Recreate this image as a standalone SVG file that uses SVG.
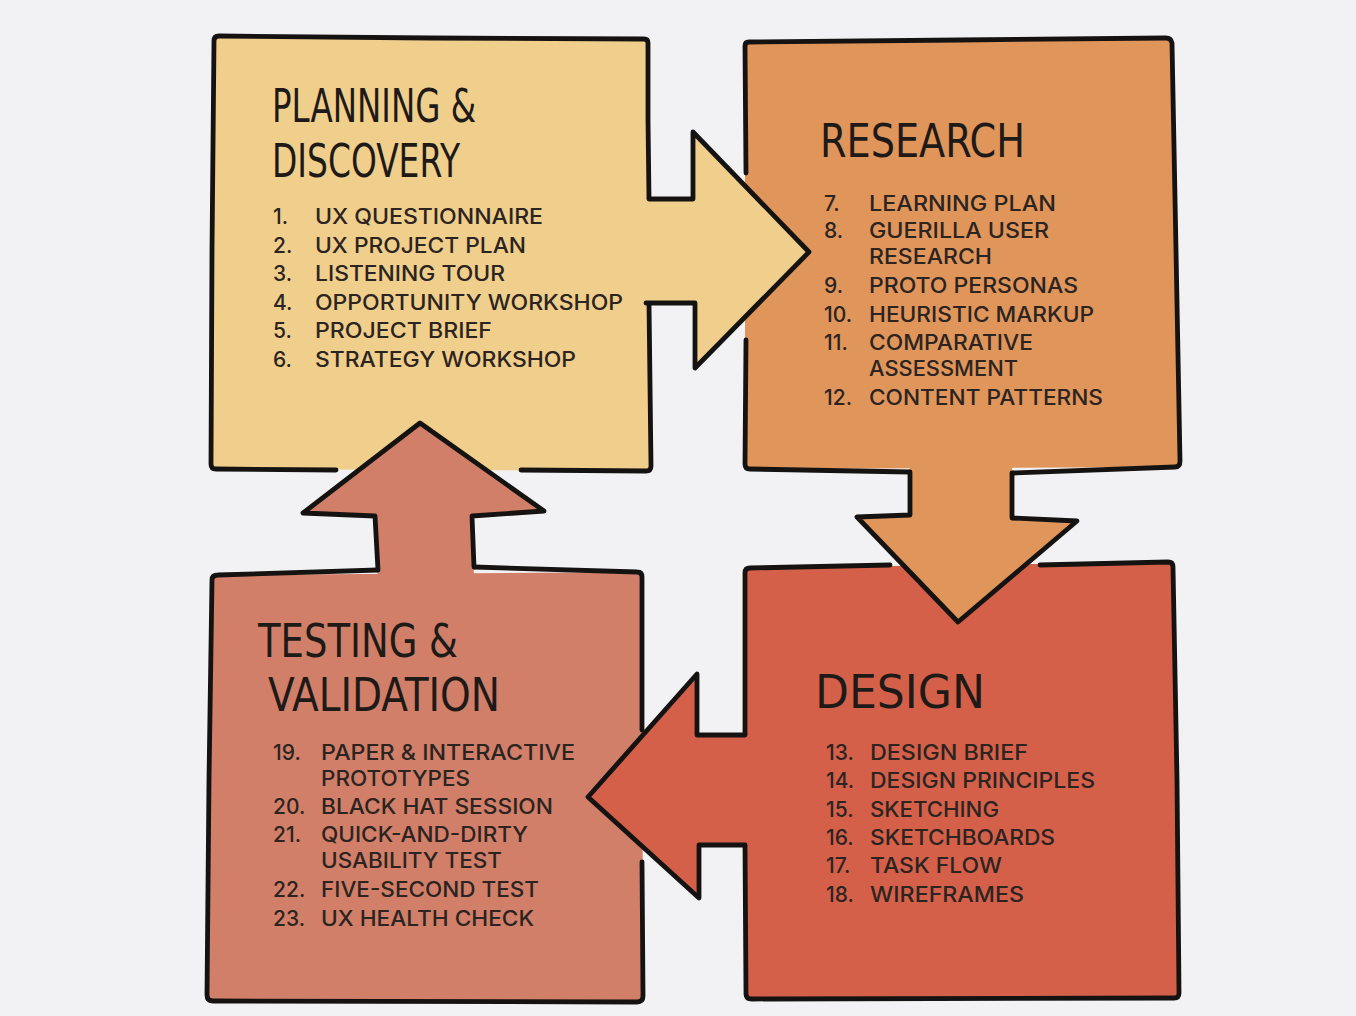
<svg xmlns="http://www.w3.org/2000/svg" width="1356" height="1016" viewBox="0 0 1356 1016">
<style>
.bg{fill:#F2F1F3}
.fy{fill:#F0CE8C}
.fo{fill:#E0955B}
.fr{fill:#D5604A}
.fs{fill:#D17F69}
.ol{fill:none;stroke:#151312;stroke-width:4.8;stroke-linejoin:round;stroke-linecap:round}
.h{font-family:"Liberation Sans Narrow","DejaVu Sans Condensed","Liberation Sans",sans-serif;font-size:47px;fill:#1E1A18}
.n{font-family:Inter,"Liberation Sans",sans-serif;font-size:21px;font-weight:500;fill:#2B2421}
.t{font-family:Inter,"Liberation Sans",sans-serif;font-size:21px;font-weight:500;fill:#2B2421}
</style>
<rect class="bg" x="0" y="0" width="1356" height="1016"/>

<g id="planning">
<path class="fy" d="M 219,36 L 644,39 L 648,43 L 651,466 L 646,471 L 216,469 L 211,464 L 214,41 Z"/>
<path class="ol" d="M 649,199 L 648,120 L 648,43 Q 648,39 644,39 L 430,38 L 219,36 Q 214,36 214,41 L 212,250 L 211,464 Q 211,469 216,469 L 336,470"/>
<path class="ol" d="M 521,470 L 646,471 Q 651,471 651,466 L 649,303"/>
<text class="h" x="272" y="122" textLength="204" lengthAdjust="spacingAndGlyphs">PLANNING &amp;</text>
<text class="h" x="272" y="177" textLength="188" lengthAdjust="spacingAndGlyphs">DISCOVERY</text>
<text class="n" x="273" y="224">1.</text><text class="t" x="315" y="224" textLength="228" lengthAdjust="spacingAndGlyphs">UX QUESTIONNAIRE</text>
<text class="n" x="273" y="252.5">2.</text><text class="t" x="315" y="252.5" textLength="211" lengthAdjust="spacingAndGlyphs">UX PROJECT PLAN</text>
<text class="n" x="273" y="281">3.</text><text class="t" x="315" y="281" textLength="190" lengthAdjust="spacingAndGlyphs">LISTENING TOUR</text>
<text class="n" x="273" y="309.5">4.</text><text class="t" x="315" y="309.5" textLength="308" lengthAdjust="spacingAndGlyphs">OPPORTUNITY WORKSHOP</text>
<text class="n" x="273" y="338">5.</text><text class="t" x="315" y="338" textLength="177" lengthAdjust="spacingAndGlyphs">PROJECT BRIEF</text>
<text class="n" x="273" y="366.5">6.</text><text class="t" x="315" y="366.5" textLength="261" lengthAdjust="spacingAndGlyphs">STRATEGY WORKSHOP</text>
</g>

<g id="research">
<path class="fo" d="M 749,42 L 1166,38 L 1172,43 L 1180,461 L 1175,467 L 750,469 L 745,464 L 745,46 Z"/>
<path class="ol" d="M 746,173 L 745,46 Q 745,42 749,42 L 960,40 L 1166,38 Q 1171,38 1172,43 L 1176,250 L 1180,461 Q 1180,467 1175,467 L 1012,473"/>
<path class="ol" d="M 910,472 L 750,469 Q 745,469 745,464 L 746,340"/>
<text class="h" x="820" y="157" textLength="205" lengthAdjust="spacingAndGlyphs">RESEARCH</text>
<text class="n" x="824" y="211">7.</text><text class="t" x="869" y="211" textLength="187" lengthAdjust="spacingAndGlyphs">LEARNING PLAN</text>
<text class="n" x="824" y="238">8.</text><text class="t" x="869" y="238" textLength="180" lengthAdjust="spacingAndGlyphs">GUERILLA USER</text>
<text class="t" x="869" y="264" textLength="123" lengthAdjust="spacingAndGlyphs">RESEARCH</text>
<text class="n" x="824" y="293">9.</text><text class="t" x="869" y="293" textLength="209" lengthAdjust="spacingAndGlyphs">PROTO PERSONAS</text>
<text class="n" x="824" y="322">10.</text><text class="t" x="869" y="322" textLength="225" lengthAdjust="spacingAndGlyphs">HEURISTIC MARKUP</text>
<text class="n" x="824" y="350">11.</text><text class="t" x="869" y="350" textLength="164" lengthAdjust="spacingAndGlyphs">COMPARATIVE</text>
<text class="t" x="869" y="376" textLength="149" lengthAdjust="spacingAndGlyphs">ASSESSMENT</text>
<text class="n" x="824" y="405">12.</text><text class="t" x="869" y="405" textLength="234" lengthAdjust="spacingAndGlyphs">CONTENT PATTERNS</text>
</g>

<g id="design">
<path class="fr" d="M 750,568 L 1168,562 L 1173,567 L 1179,993 L 1174,998 L 752,999 L 746,994 L 745,573 Z"/>
<path class="ol" d="M 890,565 L 750,568 Q 745,568 745,573 L 745,735"/>
<path class="ol" d="M 1040,565 L 1168,562 Q 1173,562 1173,567 L 1177,780 L 1179,993 Q 1179,998 1174,998 L 752,999 Q 746,999 746,994 L 745,845"/>
<text class="h" x="815" y="708" textLength="170" lengthAdjust="spacingAndGlyphs">DESIGN</text>
<text class="n" x="826" y="760">13.</text><text class="t" x="870" y="760" textLength="158" lengthAdjust="spacingAndGlyphs">DESIGN BRIEF</text>
<text class="n" x="826" y="788">14.</text><text class="t" x="870" y="788" textLength="225" lengthAdjust="spacingAndGlyphs">DESIGN PRINCIPLES</text>
<text class="n" x="826" y="817">15.</text><text class="t" x="870" y="817" textLength="129" lengthAdjust="spacingAndGlyphs">SKETCHING</text>
<text class="n" x="826" y="845">16.</text><text class="t" x="870" y="845" textLength="185" lengthAdjust="spacingAndGlyphs">SKETCHBOARDS</text>
<text class="n" x="826" y="873">17.</text><text class="t" x="870" y="873" textLength="132" lengthAdjust="spacingAndGlyphs">TASK FLOW</text>
<text class="n" x="826" y="902">18.</text><text class="t" x="870" y="902" textLength="154" lengthAdjust="spacingAndGlyphs">WIREFRAMES</text>
</g>

<g id="testing">
<path class="fs" d="M 218,575 L 637,572 L 642,577 L 643,996 L 637,1002 L 213,1001 L 207,995 L 212,580 Z"/>
<path class="ol" d="M 378,570 L 218,575 Q 212,575 212,580 L 209,780 L 207,995 Q 207,1001 213,1001 L 637,1002 Q 643,1002 643,996 L 642,862"/>
<path class="ol" d="M 642,730 L 642,577 Q 642,572 637,572 L 474,567"/>
<text class="h" x="258" y="657" textLength="200" lengthAdjust="spacingAndGlyphs">TESTING &amp;</text>
<text class="h" x="268" y="711" textLength="232" lengthAdjust="spacingAndGlyphs">VALIDATION</text>
<text class="n" x="273" y="760">19.</text><text class="t" x="321" y="760" textLength="254" lengthAdjust="spacingAndGlyphs">PAPER &amp; INTERACTIVE</text>
<text class="t" x="321" y="786" textLength="149" lengthAdjust="spacingAndGlyphs">PROTOTYPES</text>
<text class="n" x="273" y="814">20.</text><text class="t" x="321" y="814" textLength="232" lengthAdjust="spacingAndGlyphs">BLACK HAT SESSION</text>
<text class="n" x="273" y="842">21.</text><text class="t" x="321" y="842" textLength="207" lengthAdjust="spacingAndGlyphs">QUICK-AND-DIRTY</text>
<text class="t" x="321" y="868" textLength="181" lengthAdjust="spacingAndGlyphs">USABILITY TEST</text>
<text class="n" x="273" y="897">22.</text><text class="t" x="321" y="897" textLength="218" lengthAdjust="spacingAndGlyphs">FIVE-SECOND TEST</text>
<text class="n" x="273" y="926">23.</text><text class="t" x="321" y="926" textLength="213" lengthAdjust="spacingAndGlyphs">UX HEALTH CHECK</text>
</g>

<g id="connectors">
<g id="arrow-planning-research">
<path class="fy" d="M 640,199 L 693,199 L 693,132 L 809,252 L 695,368 L 695,303 L 640,303 Z"/>
<path class="ol" d="M 649,199 L 693,199 L 693,132 L 809,252 L 695,368 L 695,303 L 646,303"/>
</g>
<g id="arrow-research-design">
<path class="fo" d="M 1012,462 L 1012,518 L 1077,521 L 958,622 L 857,517 L 910,515 L 910,462 Z"/>
<path class="ol" d="M 1012,473 L 1012,518 L 1077,521 L 958,622 L 857,517 L 910,515 L 910,472"/>
</g>
<g id="arrow-design-testing">
<path class="fr" d="M 753,735 L 697,735 L 697,674 L 588,797 L 699,898 L 699,845 L 753,845 Z"/>
<path class="ol" d="M 745,735 L 697,735 L 697,674 L 588,797 L 699,898 L 699,845 L 745,845"/>
</g>
<g id="arrow-testing-planning">
<path class="fs" d="M 474,580 L 472,516 L 544,511 L 420,423 L 303,513 L 375,516 L 378,580 Z"/>
<path class="ol" d="M 474,567 L 472,516 L 544,511 L 420,423 L 303,513 L 375,516 L 378,570"/>
</g>
</g>
</svg>
